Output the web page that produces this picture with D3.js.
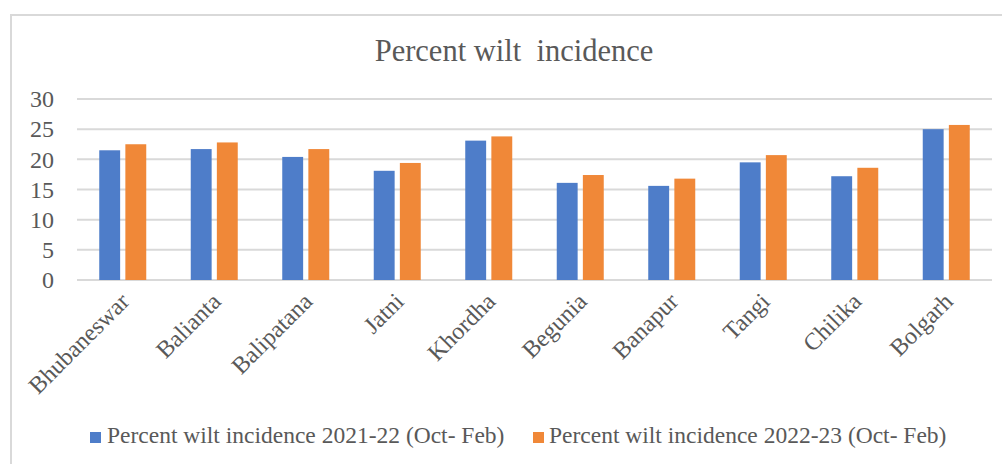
<!DOCTYPE html>
<html>
<head>
<meta charset="utf-8">
<script src="https://cdn.jsdelivr.net/npm/d3@7"></script>
<style>
  body { margin: 0; background: #fff; }
  svg { display: block; }
  svg text { font-family: "Liberation Serif", "Times New Roman", serif; }
</style>
</head>
<body>
<div id="chart"></div>
<script>
// chart data
const categories = ['Bhubaneswar', 'Balianta', 'Balipatana', 'Jatni', 'Khordha',
    'Begunia', 'Banapur', 'Tangi', 'Chilika', 'Bolgarh'];
const seriesNames = ['Percent wilt incidence 2021-22 (Oct- Feb)',
    'Percent wilt incidence 2022-23 (Oct- Feb)'];
const values2122 = [21.5, 21.7, 20.4, 18.1, 23.1, 16.1, 15.6, 19.5, 17.2, 25.0];
const values2223 = [22.5, 22.8, 21.7, 19.4, 23.8, 17.4, 16.8, 20.7, 18.6, 25.7];
const yTicks = [0, 5, 10, 15, 20, 25, 30];
const colors = ['#4e7dc9', '#f08838'];

const width = 1002, height = 464;
const textColor = '#595959';
const gridColor = '#d9d9d9';

const svg = d3.select('#chart')
    .append('svg')
    .attr('width', width)
    .attr('height', height);

// outer chart frame (runs off the right/bottom edge in the reference)
svg.append('rect')
    .attr('x', 11)
    .attr('y', 15)
    .attr('width', 1010)
    .attr('height', 470)
    .attr('fill', 'none')
    .attr('stroke', gridColor)
    .attr('stroke-width', 2);

// title
svg.append('text')
    .attr('x', 514)
    .attr('y', 61)
    .attr('text-anchor', 'middle')
    .style('font-size', '30.5px')
    .style('fill', textColor)
    .style('white-space', 'pre')
    .text('Percent wilt  incidence');

// scales
const x0 = d3.scaleBand()
    .domain(categories)
    .range([77, 992]);

const groupWidth = 47;
const x1 = d3.scaleBand()
    .domain([0, 1])
    .range([0, groupWidth])
    .paddingInner(0.2);

const y = d3.scaleLinear()
    .domain([0, 30])
    .range([280, 99]);

// gridlines
svg.append('g')
    .selectAll('line')
    .data(yTicks)
    .enter()
    .append('line')
    .attr('x1', 77)
    .attr('x2', 992)
    .attr('y1', d => y(d))
    .attr('y2', d => y(d))
    .attr('stroke', gridColor)
    .attr('stroke-width', 2);

// y axis labels
const yAxis = svg.append('g')
    .attr('transform', 'translate(54,0)')
    .call(d3.axisLeft(y).tickValues(yTicks).tickSize(0).tickPadding(0));
yAxis.attr('font-family', null);
yAxis.select('.domain').remove();
yAxis.selectAll('text')
    .style('font-size', '24px')
    .style('fill', textColor);

// bars
const rows = categories.map((c, i) => ({ category: c, vals: [values2122[i], values2223[i]] }));

const groups = svg.append('g')
    .selectAll('g')
    .data(rows)
    .enter()
    .append('g')
    .attr('transform', d => `translate(${x0(d.category) + (x0.bandwidth() - groupWidth) / 2},0)`);

groups.selectAll('rect')
    .data(d => d.vals.map((v, s) => ({ v, s })))
    .enter()
    .append('rect')
    .attr('x', d => x1(d.s))
    .attr('y', d => y(d.v))
    .attr('width', x1.bandwidth())
    .attr('height', d => y(0) - y(d.v))
    .attr('fill', d => colors[d.s]);

// category labels, rotated
svg.append('g')
    .selectAll('text')
    .data(categories)
    .enter()
    .append('text')
    .attr('transform', d => `translate(${x0(d) + x0.bandwidth() / 2 + 2},${297}) rotate(-45)`)
    .attr('text-anchor', 'end')
    .attr('dy', '0.35em')
    .style('font-size', '24px')
    .style('fill', textColor)
    .text(d => d);

// legend
const legendItems = [{ x: 90, textX: 107 }, { x: 533, textX: 549 }];
const legend = svg.append('g');
legendItems.forEach((item, i) => {
    legend.append('rect')
        .attr('x', item.x)
        .attr('y', 432)
        .attr('width', 11)
        .attr('height', 11)
        .attr('fill', colors[i]);
    legend.append('text')
        .attr('x', item.textX)
        .attr('y', 443)
        .style('font-size', '23.5px')
        .style('fill', textColor)
        .text(seriesNames[i]);
});
</script>
</body>
</html>
